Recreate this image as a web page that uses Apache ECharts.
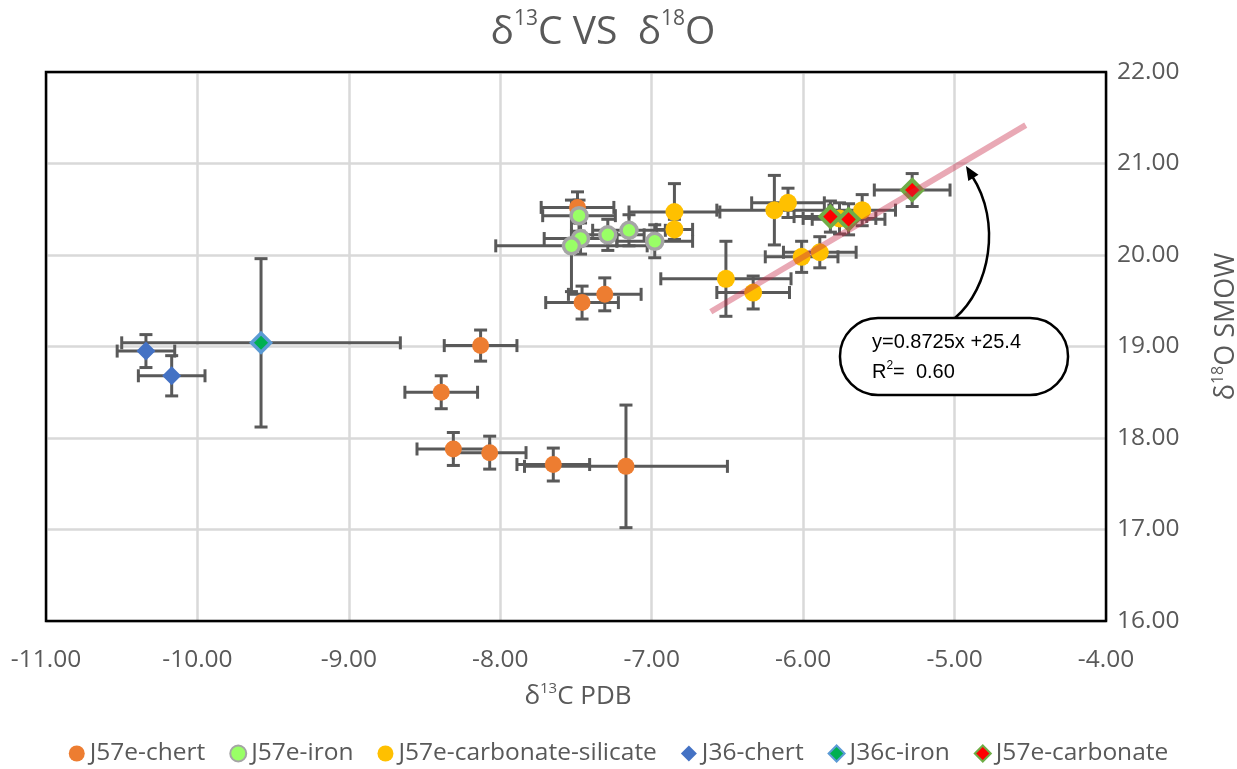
<!DOCTYPE html>
<html>
<head>
<meta charset="utf-8">
<script src="https://cdn.jsdelivr.net/npm/echarts@6/dist/echarts.min.js"></script>
<style>html,body{margin:0;padding:0;background:#fff}#c{width:1237px;height:769px}</style>
</head>
<body>
<div id="c"></div>
<script>
// ---- data ----
const seriesNames = ['J57e-chert', 'J57e-iron', 'J57e-carbonate-silicate', 'J36-chert', 'J36c-iron', 'J57e-carbonate'];

const chertX    = [-8.13, -8.39, -8.31, -8.07, -7.65, -7.17, -7.49, -7.46, -7.31];
const chertY    = [19.01, 18.50, 17.88, 17.84, 17.71, 17.69, 20.52, 19.48, 19.57];
const chertXErr = [0.24, 0.24, 0.24, 0.24, 0.24, 0.67, 0.24, 0.24, 0.24];
const chertYErr = [0.17, 0.18, 0.18, 0.18, 0.18, 0.67, 0.17, 0.18, 0.18];

const ironX    = [-7.48, -7.47, -7.53, -7.29, -7.15, -6.98];
const ironY    = [20.43, 20.18, 20.10, 20.22, 20.27, 20.15];
const ironXErr = [0.24, 0.24, 0.50, 0.24, 0.24, 0.25];
const ironYErr = [0.17, 0.17, 0.50, 0.17, 0.17, 0.18];

const carbSilX    = [-6.85, -6.85, -6.19, -6.10, -6.01, -5.89, -6.51, -6.33, -5.61, -5.76];
const carbSilY    = [20.47, 20.28, 20.49, 20.57, 19.98, 20.03, 19.74, 19.59, 20.49, 20.40];
const carbSilXErr = [0.30, 0.12, 0.38, 0.24, 0.24, 0.24, 0.43, 0.24, 0.22, 0.24];
const carbSilYErr = [0.31, 0.11, 0.38, 0.16, 0.17, 0.17, 0.41, 0.18, 0.17, 0.17];

const j36ChertX    = [-10.34, -10.17];
const j36ChertY    = [18.95, 18.68];
const j36ChertXErr = [0.19, 0.22];
const j36ChertYErr = [0.18, 0.22];

const j36IronX    = [-9.58];
const j36IronY    = [19.04];
const j36IronXErr = [0.92];
const j36IronYErr = [0.92];

const carbX    = [-5.82, -5.70, -5.28];
const carbY    = [20.42, 20.39, 20.71];
const carbXErr = [0.24, 0.24, 0.25];
const carbYErr = [0.17, 0.17, 0.18];

const trendX = [-6.61, -4.53];
const trendY = [19.38, 21.42];

const xTicks = { min: -11, max: -4, interval: 1 };
const yTicks = { min: 16, max: 22, interval: 1 };

const eqLine1 = 'y=0.8725x +25.4';
const eqLine2R = 'R';
const eqLine2Rest = '=  0.60';

// ---- chart ----
const FONT = "'Open Sans', 'Noto Sans', sans-serif";
const EQFONT = "'Liberation Sans', Arial, sans-serif";
const GREY = '#595959';

function zip(xs, ys, xe, ye) { return xs.map((x, i) => [x, ys[i], xe[i], ye[i]]); }

function errSeries(data) {
  return {
    type: 'custom',
    data: data,
    encode: { x: 0, y: 1 },
    z: 2,
    silent: true,
    renderItem: function (params, api) {
      const x = api.value(0), y = api.value(1), xe = api.value(2), ye = api.value(3);
      const l = api.coord([x - xe, y]), r = api.coord([x + xe, y]);
      const t = api.coord([x, y + ye]), b = api.coord([x, y - ye]);
      const c = 6.5;
      const st = { stroke: GREY, lineWidth: 3 };
      const ln = (x1, y1, x2, y2) => ({ type: 'line', shape: { x1, y1, x2, y2 }, style: st });
      return {
        type: 'group',
        children: [
          ln(l[0], l[1], r[0], r[1]),
          ln(l[0], l[1] - c, l[0], l[1] + c),
          ln(r[0], r[1] - c, r[0], r[1] + c),
          ln(t[0], t[1], b[0], b[1]),
          ln(t[0] - c, t[1], t[0] + c, t[1]),
          ln(b[0] - c, b[1], b[0] + c, b[1])
        ]
      };
    }
  };
}

function pts(xs, ys) { return xs.map((x, i) => [x, ys[i]]); }

const scatterDefs = [
  { name: seriesNames[0], data: pts(chertX, chertY), symbol: 'circle', symbolSize: 17, itemStyle: { color: '#ED7D31', opacity: 1 } },
  { name: seriesNames[1], data: pts(ironX, ironY), symbol: 'circle', symbolSize: 16, itemStyle: { color: '#99FF66', borderColor: '#A5A5A5', borderWidth: 3.5, opacity: 1 } },
  { name: seriesNames[2], data: pts(carbSilX, carbSilY), symbol: 'circle', symbolSize: 18, itemStyle: { color: '#FFC000', opacity: 1 } },
  { name: seriesNames[3], data: pts(j36ChertX, j36ChertY), symbol: 'diamond', symbolSize: 19, itemStyle: { color: '#4472C4', opacity: 1 } },
  { name: seriesNames[4], data: pts(j36IronX, j36IronY), symbol: 'diamond', symbolSize: 19, itemStyle: { color: '#00B050', borderColor: '#5B9BD5', borderWidth: 3.5, opacity: 1 } },
  { name: seriesNames[5], data: pts(carbX, carbY), symbol: 'diamond', symbolSize: 20, itemStyle: { color: '#FF0000', borderColor: '#70AD47', borderWidth: 4, opacity: 1 } }
];

const series = [
  errSeries(zip(chertX, chertY, chertXErr, chertYErr)),
  errSeries(zip(ironX, ironY, ironXErr, ironYErr)),
  errSeries(zip(carbSilX, carbSilY, carbSilXErr, carbSilYErr)),
  errSeries(zip(j36ChertX, j36ChertY, j36ChertXErr, j36ChertYErr)),
  errSeries(zip(j36IronX, j36IronY, j36IronXErr, j36IronYErr)),
  errSeries(zip(carbX, carbY, carbXErr, carbYErr))
];
scatterDefs.forEach(d => series.push(Object.assign({ type: 'scatter', z: 3, emphasis: { disabled: true } }, d)));
series.push({
  type: 'line',
  data: pts(trendX, trendY),
  symbol: 'none',
  z: 4,
  silent: true,
  lineStyle: { color: 'rgba(200,40,70,0.4)', width: 6, cap: 'butt' }
});

const chart = echarts.init(document.getElementById('c'), null, { renderer: 'canvas' });

const supRich = {
  a: { fontFamily: FONT, fontSize: 26, color: GREY, lineHeight: 32 },
  s: { fontFamily: FONT, fontSize: 15, color: GREY, lineHeight: 32, verticalAlign: 'top' }
};
const supRichY = {
  a: { fontFamily: FONT, fontSize: 27, color: GREY, lineHeight: 32 },
  s: { fontFamily: FONT, fontSize: 16, color: GREY, lineHeight: 32, verticalAlign: 'top' }
};

chart.setOption({
  backgroundColor: '#fff',
  animation: false,
  title: {
    text: '{a|δ}{s|13}{a|C VS  δ}{s|18}{a|O}',
    left: 598,
    top: 4,
    textAlign: 'center',
    textStyle: {
      fontWeight: 'normal',
      rich: {
        a: { fontFamily: FONT, fontSize: 39, fontWeight: 'normal', color: GREY, lineHeight: 48 },
        s: { fontFamily: FONT, fontSize: 21, fontWeight: 'normal', color: GREY, lineHeight: 48, verticalAlign: 'top' }
      }
    }
  },
  grid: {
    left: 46, top: 72, width: 1060, height: 549,
    show: false,
    containLabel: false,
    outerBoundsMode: 'none'
  },
  legend: {
    data: seriesNames,
    bottom: -2,
    left: 'center',
    itemWidth: 16, itemHeight: 16, itemGap: 24,
    textStyle: { fontFamily: FONT, fontSize: 24.5, color: GREY }
  },
  xAxis: {
    type: 'value',
    min: xTicks.min, max: xTicks.max, interval: xTicks.interval,
    axisLine: { show: false }, axisTick: { show: false },
    splitLine: { lineStyle: { color: '#D9D9D9', width: 2.5 } },
    axisLabel: { formatter: v => v.toFixed(2), fontFamily: FONT, fontSize: 24.5, color: GREY, margin: 27 },
    name: '{a|δ}{s|13}{a|C PDB}',
    nameLocation: 'middle',
    nameGap: 60,
    nameTextStyle: { rich: supRich, padding: [0, 0, 0, 4] }
  },
  yAxis: {
    type: 'value',
    position: 'right',
    min: yTicks.min, max: yTicks.max, interval: yTicks.interval,
    axisLine: { show: false }, axisTick: { show: false },
    splitLine: { lineStyle: { color: '#D9D9D9', width: 2.5 } },
    axisLabel: { formatter: v => v.toFixed(2), fontFamily: FONT, fontSize: 24.5, color: GREY, margin: 11 },
    name: '{a|δ}{s|18}{a|O SMOW}',
    nameLocation: 'middle',
    nameRotate: 90,
    nameGap: 104,
    nameTextStyle: { rich: supRichY, padding: [0, 0, 0, 40] }
  },
  series: series,
  graphic: [
    {
      type: 'rect',
      shape: { x: 46, y: 72, width: 1060, height: 549 },
      style: { fill: null, stroke: '#000', lineWidth: 2.5 },
      z: 5
    },
    {
      type: 'bezierCurve',
      shape: { x1: 955, y1: 318, cpx1: 990, cpy1: 288, cpx2: 1002, cpy2: 222, x2: 972, y2: 176 },
      style: { stroke: '#000', lineWidth: 2.5, fill: null },
      z: 10
    },
    {
      type: 'polygon',
      shape: { points: [[966, 166], [978.5, 174.7], [968.3, 181.1]] },
      style: { fill: '#000' },
      z: 10
    },
    {
      type: 'rect',
      shape: { x: 840, y: 318, width: 228, height: 77, r: 38 },
      style: { fill: '#fff', stroke: '#000', lineWidth: 2.5 },
      z: 10
    },
    {
      type: 'text',
      left: 872, top: 332,
      style: { text: eqLine1, font: "20px " + EQFONT, fill: '#000' },
      z: 11
    },
    {
      type: 'text',
      left: 872, top: 360,
      style: {
        text: '{r|' + eqLine2R + '}{s|2}{r|' + eqLine2Rest + '}',
        rich: {
          r: { fontFamily: EQFONT, fontSize: 20, color: '#000', lineHeight: 24 },
          s: { fontFamily: EQFONT, fontSize: 12, color: '#000', lineHeight: 24, verticalAlign: 'top' }
        }
      },
      z: 11
    }
  ]
});
</script>
</body>
</html>
